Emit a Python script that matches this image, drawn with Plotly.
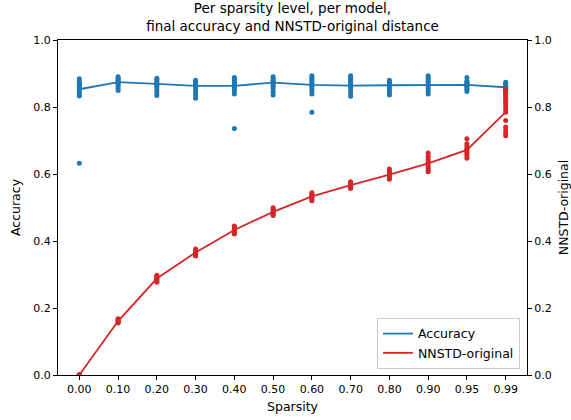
import plotly.graph_objects as go

# Sparsity levels (categorical x axis)
sparsity = ["0.00", "0.10", "0.20", "0.30", "0.40", "0.50",
            "0.60", "0.70", "0.80", "0.90", "0.95", "0.99"]

# Final accuracy of each model, per sparsity level
acc_000 = [0.884, 0.878, 0.872, 0.868, 0.864, 0.860, 0.855, 0.848, 0.840, 0.833, 0.632]
acc_010 = [0.890, 0.886, 0.882, 0.878, 0.875, 0.872, 0.868, 0.862, 0.855, 0.849]
acc_020 = [0.886, 0.881, 0.876, 0.872, 0.868, 0.864, 0.858, 0.850, 0.842, 0.834]
acc_030 = [0.880, 0.876, 0.872, 0.868, 0.864, 0.860, 0.852, 0.845, 0.836, 0.826]
acc_040 = [0.888, 0.883, 0.878, 0.874, 0.870, 0.866, 0.860, 0.853, 0.846, 0.839, 0.736]
acc_050 = [0.890, 0.885, 0.880, 0.876, 0.872, 0.868, 0.862, 0.855, 0.846, 0.836]
acc_060 = [0.893, 0.888, 0.883, 0.878, 0.873, 0.868, 0.862, 0.855, 0.847, 0.839, 0.784]
acc_070 = [0.893, 0.888, 0.882, 0.877, 0.872, 0.866, 0.859, 0.851, 0.842, 0.832]
acc_080 = [0.880, 0.876, 0.872, 0.868, 0.864, 0.860, 0.855, 0.849, 0.842, 0.836]
acc_090 = [0.893, 0.888, 0.882, 0.877, 0.872, 0.867, 0.861, 0.854, 0.846, 0.839]
acc_095 = [0.888, 0.878, 0.874, 0.871, 0.868, 0.865, 0.861, 0.857, 0.852, 0.846]
acc_099 = [0.874, 0.870, 0.866, 0.862, 0.858, 0.855, 0.852, 0.849, 0.846, 0.843]
acc_points = [acc_000, acc_010, acc_020, acc_030, acc_040, acc_050,
              acc_060, acc_070, acc_080, acc_090, acc_095, acc_099]

# Mean accuracy per sparsity level
acc_mean = [0.853, 0.874, 0.869, 0.863, 0.863, 0.873, 0.866, 0.864, 0.865, 0.866, 0.866, 0.859]

# NNSTD-original distance of each model, per sparsity level
nn_000 = [0.0, 0.0, 0.0, 0.0, 0.0, 0.0]
nn_010 = [0.168, 0.165, 0.162, 0.160, 0.158, 0.155]
nn_020 = [0.298, 0.294, 0.290, 0.287, 0.284, 0.280, 0.277]
nn_030 = [0.376, 0.372, 0.368, 0.365, 0.362, 0.358, 0.355]
nn_040 = [0.445, 0.440, 0.436, 0.432, 0.428, 0.424, 0.421]
nn_050 = [0.499, 0.495, 0.490, 0.486, 0.482, 0.478, 0.476]
nn_060 = [0.544, 0.540, 0.536, 0.532, 0.528, 0.524, 0.520]
nn_070 = [0.577, 0.573, 0.569, 0.566, 0.563, 0.560, 0.557]
nn_080 = [0.615, 0.608, 0.603, 0.598, 0.594, 0.589, 0.584]
nn_090 = [0.663, 0.652, 0.644, 0.637, 0.631, 0.625, 0.618, 0.612, 0.607]
nn_095 = [0.705, 0.690, 0.683, 0.676, 0.671, 0.665, 0.660, 0.654, 0.647]
nn_099 = [0.852, 0.845, 0.838, 0.832, 0.826, 0.820, 0.814, 0.808, 0.800, 0.792,
          0.784, 0.760, 0.740, 0.730, 0.722, 0.714]
nn_points = [nn_000, nn_010, nn_020, nn_030, nn_040, nn_050,
             nn_060, nn_070, nn_080, nn_090, nn_095, nn_099]

# Mean NNSTD-original distance per sparsity level
nn_mean = [0.0, 0.161, 0.288, 0.366, 0.433, 0.487, 0.533, 0.567, 0.598, 0.632, 0.672, 0.785]

BLUE = "#1f77b4"
RED = "#d62728"
FONT = "DejaVu Sans"


def flatten(groups):
    xs, ys = [], []
    for cat, vals in zip(sparsity, groups):
        xs += [cat] * len(vals)
        ys += vals
    return xs, ys


fig = go.Figure()

ax, ay = flatten(acc_points)
fig.add_trace(go.Scatter(x=ax, y=ay, mode="markers", showlegend=False,
                         marker=dict(color=BLUE, size=5, line=dict(width=0))))
fig.add_trace(go.Scatter(x=sparsity, y=acc_mean, mode="lines", name="Accuracy",
                         line=dict(color=BLUE, width=1.8)))

nx, ny = flatten(nn_points)
fig.add_trace(go.Scatter(x=nx, y=ny, mode="markers", showlegend=False, yaxis="y2",
                         marker=dict(color=RED, size=5, line=dict(width=0))))
fig.add_trace(go.Scatter(x=sparsity, y=nn_mean, mode="lines", name="NNSTD-original",
                         yaxis="y2", line=dict(color=RED, width=1.8)))

axis_common = dict(showline=True, linecolor="black", linewidth=1, ticks="outside",
                   ticklen=4, tickcolor="black", showgrid=False, zeroline=False,
                   automargin=False,
                   tickfont=dict(family=FONT, size=11, color="black"))

LABEL_SIZE = 12.5

fig.update_layout(
    width=571, height=420,
    margin=dict(l=58, r=44, t=40, b=45, autoexpand=False),
    plot_bgcolor="white", paper_bgcolor="white",
    font=dict(family=FONT, size=11, color="black"),
    title=dict(text="Per sparsity level, per model,<br>final accuracy and NNSTD-original distance",
               x=0.5, xref="paper", xanchor="center",
               y=0.968, yref="container", yanchor="top",
               font=dict(family=FONT, size=13.5, color="black")),
    xaxis=dict(type="category", categoryorder="array", categoryarray=sparsity,
               range=[-0.55, 11.55], mirror=True,
               title=dict(text="Sparsity", standoff=7, font=dict(family=FONT, size=LABEL_SIZE)),
               **axis_common),
    yaxis=dict(range=[0, 1], tickvals=[0, 0.2, 0.4, 0.6, 0.8, 1.0],
               ticktext=["0.0", "0.2", "0.4", "0.6", "0.8", "1.0"],
               title=dict(text="Accuracy", standoff=9, font=dict(family=FONT, size=LABEL_SIZE)),
               **axis_common),
    yaxis2=dict(range=[0, 1], overlaying="y", side="right",
                tickvals=[0, 0.2, 0.4, 0.6, 0.8, 1.0],
                ticktext=["0.0", "0.2", "0.4", "0.6", "0.8", "1.0"],
                title=dict(text="NNSTD-original", standoff=15, font=dict(family=FONT, size=LABEL_SIZE)),
                **axis_common),
    legend=dict(x=0.985, y=0.018, xanchor="right", yanchor="bottom",
                bgcolor="rgba(255,255,255,0.85)", bordercolor="#cccccc", borderwidth=1,
                font=dict(family=FONT, size=LABEL_SIZE), tracegroupgap=0),
)

fig.write_html("out.html")
